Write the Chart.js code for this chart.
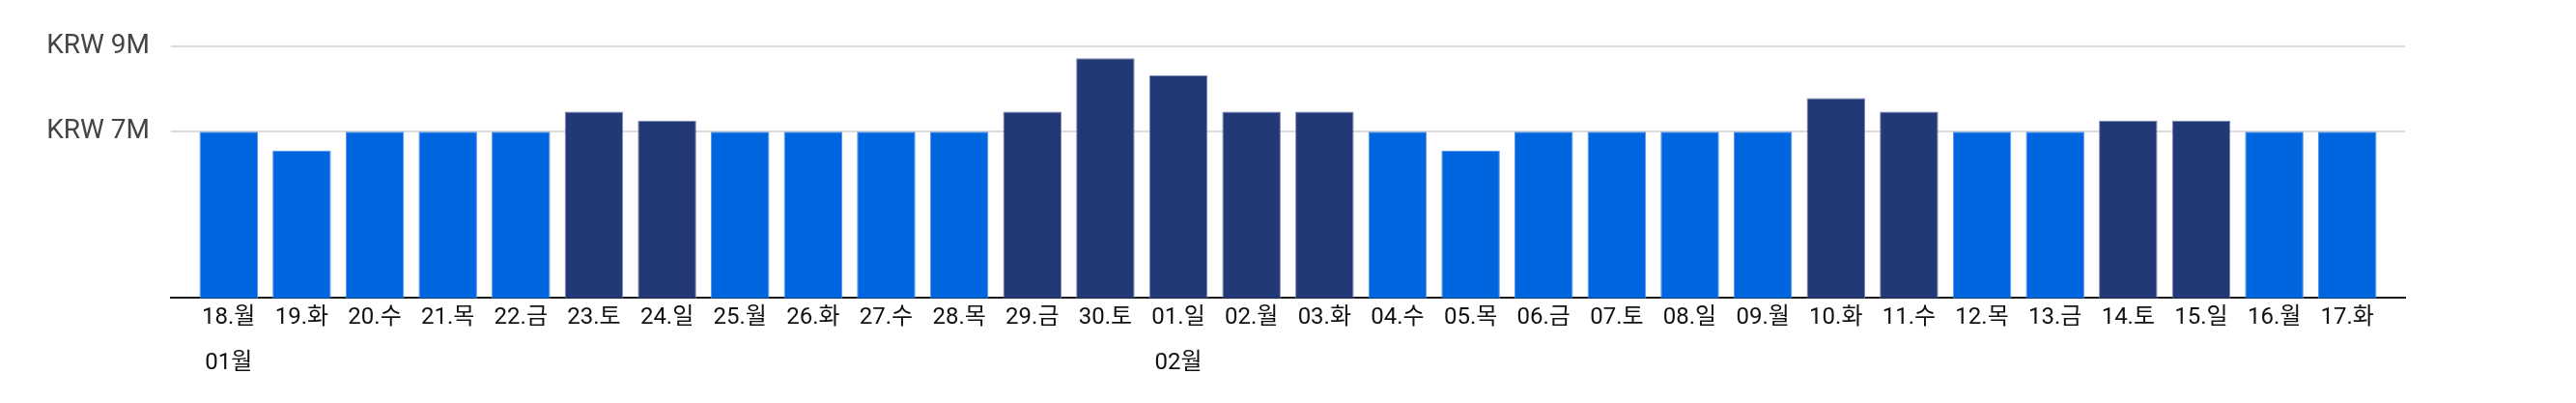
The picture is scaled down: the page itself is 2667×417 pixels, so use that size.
<!DOCTYPE html>
<html>
<head>
<meta charset="utf-8">
<script src="https://cdn.jsdelivr.net/npm/chart.js@4.4.1/dist/chart.umd.min.js"></script>
<style>
  html, body { margin: 0; padding: 0; background: #fff; }
  #wrap { width: 2667px; height: 417px; }
</style>
</head>
<body>
<div id="wrap"><canvas id="price-chart"></canvas></div>
<script>
const dayLabels = [
  "18.월", "19.화", "20.수", "21.목", "22.금", "23.토", "24.일", "25.월",
  "26.화", "27.수", "28.목", "29.금", "30.토", "01.일", "02.월", "03.화",
  "04.수", "05.목", "06.금", "07.토", "08.일", "09.월", "10.화", "11.수",
  "12.목", "13.금", "14.토", "15.일", "16.월", "17.화",
];
const monthLabels = ["01월", "02월"];
const monthStarts = [0, 13];
const prices = [
  7000000, 6560000, 7000000, 7000000, 7000000, 7470000, 7260000, 7000000,
  7000000, 7000000, 7000000, 7470000, 8720000, 8320000, 7470000, 7470000,
  7000000, 6560000, 7000000, 7000000, 7000000, 7000000, 7790000, 7470000,
  7000000, 7000000, 7260000, 7260000, 7000000, 7000000,
];
const yTicks = [7000000, 9000000];

document.addEventListener("DOMContentLoaded", () => {
  const ctx = document.getElementById("price-chart").getContext("2d");

  const labelFont = { family: "Roboto, 'Noto Sans CJK KR'", size: 24 };
  const xMin = -0.79;
  const xMax = 29.79;

  // peak days (above the base price) get the dark colour
  const fill = prices.map((v) => (v > 7000000 ? "#233876" : "#0066e0"));
  const edge = prices.map((v) => (v > 7000000 ? "#7c89b4" : "#5895ea"));

  const config = {
    type: "bar",
    data: {
      datasets: [
        {
          data: prices.map((v, i) => ({ x: i, y: v })),
          backgroundColor: fill,
          borderColor: edge,
          borderWidth: { top: 1, left: 1, right: 1, bottom: 0 },
          borderSkipped: "bottom",
          categoryPercentage: 1,
          barPercentage: 0.8,
        },
      ],
    },
    options: {
      responsive: true,
      maintainAspectRatio: false,
      animation: false,
      layout: { padding: { left: 0, right: 177, top: 48, bottom: 15 } },
      plugins: {
        legend: { display: false },
        tooltip: { enabled: false },
      },
      scales: {
        x: {
          type: "linear",
          offset: false,
          min: xMin,
          max: xMax,
          grid: { display: false, drawTicks: false, offset: false },
          border: { display: true, color: "#1a1a1a", width: 2 },
          afterBuildTicks: (s) => {
            s.ticks = dayLabels.map((_, i) => ({ value: i }));
          },
          ticks: {
            autoSkip: false,
            maxRotation: 0,
            padding: 6,
            color: "#111",
            font: labelFont,
            callback: (v) => dayLabels[v],
          },
        },
        x2: {
          type: "linear",
          position: "bottom",
          offset: false,
          min: xMin,
          max: xMax,
          grid: { display: false, drawTicks: false, offset: false },
          border: { display: false },
          afterBuildTicks: (s) => {
            s.ticks = monthStarts.map((i) => ({ value: i }));
          },
          ticks: {
            autoSkip: false,
            maxRotation: 0,
            padding: 12,
            color: "#111",
            font: labelFont,
            callback: (v) => monthLabels[monthStarts.indexOf(v)],
          },
        },
        y: {
          min: 3100000,
          max: 9000000,
          z: 1, // grid lines sit on top of the bars
          afterBuildTicks: (s) => {
            s.ticks = yTicks.map((v) => ({ value: v }));
          },
          afterFit: (s) => {
            s.width = 177;
          },
          grid: { color: "#dcdcdc", lineWidth: 2, drawTicks: false },
          border: { display: false },
          ticks: {
            padding: 22,
            color: "#444",
            font: { family: "Roboto", size: 28 },
            callback: (v) => "KRW " + v / 1000000 + "M",
          },
        },
      },
    },
  };

  new Chart(ctx, config);
});
</script>
</body>
</html>
